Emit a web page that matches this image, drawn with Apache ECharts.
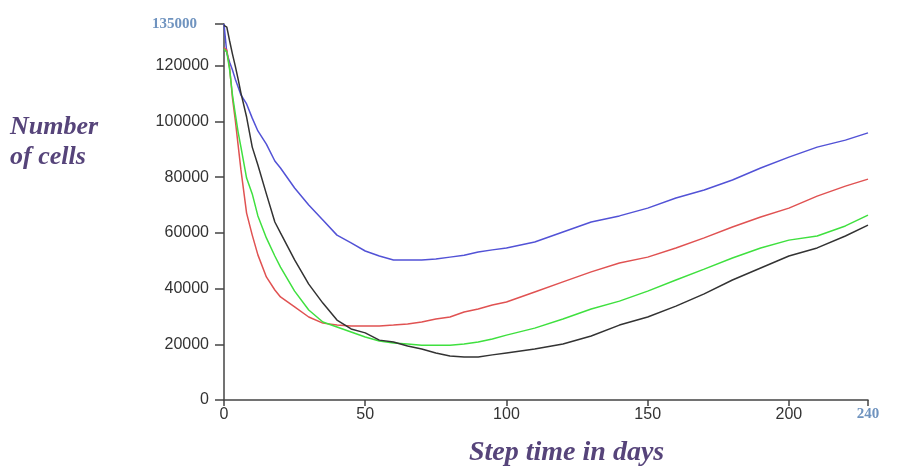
<!DOCTYPE html>
<html style="height: 100%">

<head>
    <meta charset="utf-8">
</head>

<body style="height: 100%; margin: 0; background: #fff">
    <div id="container" style="width: 902px; height: 468px"></div>

    <script src="https://cdn.jsdelivr.net/npm/echarts@6/dist/echarts.min.js"></script>

    <script type="text/javascript">
        // 时间步（天）
        var days = [0, 1, 2, 3, 4, 5, 6, 8, 10, 12, 15, 18, 20, 25, 30, 35, 40, 45, 50, 55, 60, 65, 70, 75, 80, 85, 90, 95,
            100, 110, 120, 130, 140, 150, 160, 170, 180, 190, 200, 210, 220, 228];

        // 四条曲线的细胞数量
        var blueCells = [135000, 124600, 121300, 118500, 115200, 112400, 109500, 106300, 101200, 96600, 91900, 85800, 83300,
            76100, 70000, 64600, 59200, 56400, 53500, 51700, 50300, 50300, 50300, 50600, 51300, 52000, 53100, 53900,
            54600, 56700, 60300, 63900, 66100, 68900, 72500, 75400, 79000, 83300, 87200, 90800, 93300, 95900];
        var redCells = [126500, 125600, 119200, 108400, 100500, 91500, 82600, 67100, 59200, 52100, 44200, 39500, 37000,
            33400, 29800, 27600, 26900, 26600, 26600, 26600, 26900, 27300, 28000, 29100, 29800, 31600, 32700, 34100,
            35200, 38800, 42400, 46000, 49200, 51300, 54600, 58200, 62100, 65700, 68900, 73200, 76800, 79300];
        var greenCells = [126000, 124900, 118500, 109500, 102700, 96200, 90800, 79700, 74000, 66100, 58200, 51700, 47700,
            39100, 32300, 28000, 26200, 24400, 22600, 21200, 20500, 20100, 19700, 19700, 19700, 20100, 20800, 21900,
            23300, 25800, 29100, 32700, 35500, 39100, 43100, 47000, 51000, 54600, 57400, 58900, 62500, 66400];
        var blackCells = [134500, 133900, 128900, 124200, 119900, 115200, 110200, 101600, 90800, 84400, 74000, 63900, 60000,
            50300, 41600, 34800, 28700, 25500, 24100, 21500, 20800, 19400, 18300, 16900, 15800, 15400, 15400, 16200,
            16900, 18300, 20100, 23000, 26900, 29800, 33700, 38100, 43100, 47400, 51700, 54600, 58900, 62800];

        var xMax = 228;      // 横轴实际的末端
        var xEndLabel = '240';
        var yMax = 135000;

        function pairs(vals) {
            return days.map(function (d, i) {
                return [d, vals[i]];
            });
        }

        var myChart = echarts.init(document.getElementById('container'));

        var endStyle = {
            color: '#6f93bf',
            fontFamily: 'Liberation Serif',
            fontWeight: 'bold',
            fontSize: 15
        };
        var titleFont = 'bold italic 26px "Liberation Serif"';

        var option = {
            animation: false,
            grid: {
                left: 224,
                right: 34,
                top: 24,
                bottom: 68
            },
            xAxis: {
                type: 'value',
                min: 0,
                max: xMax,
                interval: 50,
                splitLine: { show: false },
                axisLine: { lineStyle: { color: '#444', width: 1.5 } },
                axisTick: { length: 6, lineStyle: { color: '#444', width: 1.5 } },
                axisLabel: {
                    color: '#333',
                    fontFamily: 'Liberation Sans',
                    fontSize: 16,
                    margin: 7,
                    showMaxLabel: true,
                    formatter: function (v) {
                        return v === xMax ? '{end|' + xEndLabel + '}' : String(v);
                    },
                    rich: { end: endStyle }
                }
            },
            yAxis: {
                type: 'value',
                min: 0,
                max: yMax,
                interval: 20000,
                splitLine: { show: false },
                axisLine: { show: true, lineStyle: { color: '#444', width: 1.5 } },
                axisTick: { show: true, length: 9, lineStyle: { color: '#444', width: 1.5 } },
                axisLabel: {
                    color: '#333',
                    fontFamily: 'Liberation Sans',
                    fontSize: 16,
                    margin: 15,
                    showMaxLabel: true,
                    formatter: function (v) {
                        return v === yMax ? '{end|' + v + '}' : String(v);
                    },
                    rich: { end: Object.assign({ padding: [0, 12, 0, 0] }, endStyle) }
                }
            },
            graphic: [
                { type: 'text', left: 10, top: 114, style: { text: 'Number', font: titleFont, fill: '#56447a' } },
                { type: 'text', left: 10, top: 144, style: { text: 'of cells', font: titleFont, fill: '#56447a' } },
                { type: 'text', left: 469, top: 439, style: { text: 'Step time in days', font: 'bold italic 28px "Liberation Serif"', fill: '#56447a' } }
            ],
            series: [
                { name: 'blue', type: 'line', data: pairs(blueCells), color: '#5252d6' },
                { name: 'red', type: 'line', data: pairs(redCells), color: '#e05252' },
                { name: 'green', type: 'line', data: pairs(greenCells), color: '#3fe03f' },
                { name: 'black', type: 'line', data: pairs(blackCells), color: '#333333' }
            ].map(function (s) {
                s.symbol = 'none';
                s.lineStyle = { width: 1.5 };
                return s;
            })
        };

        myChart.setOption(option);
    </script>
</body>

</html>
